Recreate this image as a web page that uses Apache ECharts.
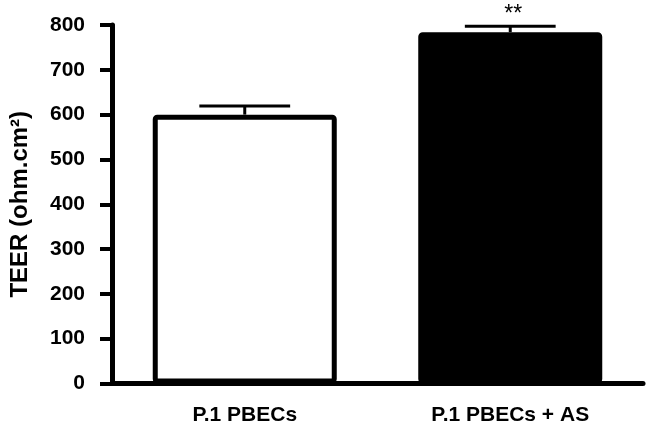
<!DOCTYPE html>
<html>
<head>
<meta charset="utf-8">
<script src="https://cdn.jsdelivr.net/npm/echarts@6/dist/echarts.min.js"></script>
<style>
html,body{margin:0;padding:0;background:#fff;}
#chart{width:650px;height:427px;}
</style>
</head>
<body>
<div id="chart"></div>
<script>
const categories = ['P.1 PBECs', 'P.1 PBECs + AS'];
const meanValues = [600, 784];
const errorValues = [19, 13];
const sigMarks = ['', '**'];
const yMin = 0, yMax = 800, yInterval = 100;
const yTitle = 'TEER (ohm.cm\u00B2)';

const FONT = '"Liberation Sans", Arial, sans-serif';
const chart = echarts.init(document.getElementById('chart'));

const barFills = ['#ffffff', '#000000'];

chart.setOption({
  animation: false,
  backgroundColor: '#ffffff',
  grid: { left: 104, right: 7, top: 25, bottom: 43.5 },
  xAxis: {
    type: 'category',
    data: categories,
    axisLine: { lineStyle: { color: '#000', width: 5 } },
    axisTick: { alignWithLabel: true, length: 12, lineStyle: { color: '#000', width: 4 } },
    axisLabel: { color: '#000', fontSize: 21, fontWeight: 'bold', fontFamily: FONT, margin: 21 }
  },
  yAxis: {
    type: 'value',
    min: yMin, max: yMax, interval: yInterval,
    name: yTitle,
    nameLocation: 'middle',
    nameGap: 80,
    nameTextStyle: { color: '#000', fontSize: 24, fontWeight: 'bold', fontFamily: FONT },
    axisLine: { show: true, lineStyle: { color: '#000', width: 5 } },
    axisTick: { show: true, length: 12, lineStyle: { color: '#000', width: 4 } },
    axisLabel: { color: '#000', fontSize: 21, fontWeight: 'bold', fontFamily: FONT, margin: 27 },
    splitLine: { show: false }
  },
  series: [
    {
      type: 'bar',
      barWidth: 184,
      data: meanValues.map((v, i) => ({
        value: v,
        itemStyle: { color: barFills[i], borderColor: '#000', borderWidth: 5, borderRadius: 2 }
      }))
    },
    {
      type: 'custom',
      z: 5,
      data: categories.map((c, i) => [i, meanValues[i], errorValues[i]]),
      renderItem: function (params, api) {
        const idx = api.value(0);
        const mean = api.value(1);
        const err = api.value(2);
        const base = api.coord([idx, mean]);
        const top = api.coord([idx, mean + err]);
        const half = api.size([1, 0])[0] * 0.171;
        const style = { stroke: '#000', lineWidth: 3 };
        const children = [
          { type: 'line', shape: { x1: top[0], y1: base[1], x2: top[0], y2: top[1] }, style: style },
          { type: 'line', shape: { x1: top[0] - half, y1: top[1], x2: top[0] + half, y2: top[1] }, style: style }
        ];
        const mark = sigMarks[idx];
        if (mark) {
          children.push({
            type: 'text',
            style: {
              text: mark, x: top[0] + 3, y: top[1] - 12,
              align: 'center', verticalAlign: 'middle',
              font: '23px ' + FONT, fill: '#000'
            }
          });
        }
        return { type: 'group', children: children };
      }
    }
  ]
});
</script>
</body>
</html>
